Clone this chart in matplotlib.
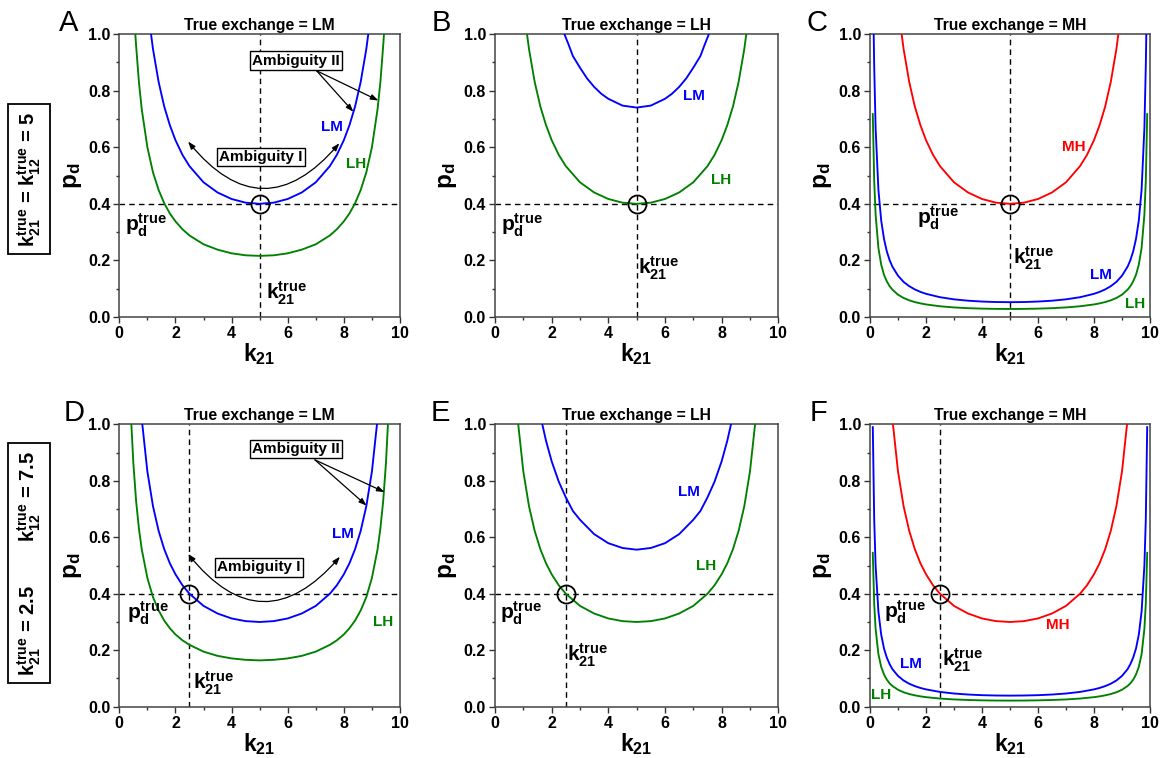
import matplotlib
matplotlib.use("Agg")
import matplotlib.pyplot as plt
from matplotlib.ticker import MultipleLocator

plt.rcParams['font.family'] = ['Liberation Sans', 'DejaVu Sans']
plt.rcParams['font.weight'] = 'bold'
plt.rcParams['mathtext.fontset'] = 'custom'
plt.rcParams['mathtext.rm'] = 'Liberation Sans:bold'
plt.rcParams['mathtext.bf'] = 'Liberation Sans:bold'
plt.rcParams['mathtext.it'] = 'Liberation Sans:bold'

BLUE = '#0000ff'
GREEN = '#008000'
RED = '#ff0000'

# ---------------- data ----------------
# curve with minimum 0.40 at k21 = 5 (A: LM, B: LH, C: MH)
k_min040 = [1.13, 1.2, 1.4, 1.6, 1.8, 2.0, 2.25, 2.5, 3.0, 3.5, 4.0, 4.5, 5.0,
            5.5, 6.0, 6.5, 7.0, 7.5, 7.75, 8.0, 8.2, 8.4, 8.6, 8.8, 8.87]
p_min040 = [1.0, 0.947, 0.831, 0.744, 0.678, 0.625, 0.573, 0.533, 0.476, 0.440, 0.417, 0.404, 0.400,
            0.404, 0.417, 0.440, 0.476, 0.533, 0.573, 0.625, 0.678, 0.744, 0.831, 0.947, 1.0]

# A: LH
k_A_LH = [0.57, 0.6, 0.7, 0.8, 1.0, 1.2, 1.4, 1.6, 1.8, 2.0, 2.25, 2.5, 3.0, 3.5, 4.0, 4.5, 5.0,
          5.5, 6.0, 6.5, 7.0, 7.5, 7.75, 8.0, 8.2, 8.4, 8.6, 8.8, 9.0, 9.2, 9.3, 9.4, 9.43]
p_A_LH = [1.0, 0.957, 0.829, 0.734, 0.600, 0.511, 0.449, 0.402, 0.366, 0.338, 0.310, 0.288, 0.257, 0.238, 0.225, 0.218, 0.216,
          0.218, 0.225, 0.238, 0.257, 0.288, 0.310, 0.338, 0.366, 0.402, 0.449, 0.511, 0.600, 0.734, 0.829, 0.957, 1.0]

# B: LM
k_B_LM = [2.45, 2.5, 2.6, 2.75, 3.0, 3.25, 3.5, 3.75, 4.0, 4.5, 5.0,
          5.5, 6.0, 6.25, 6.5, 6.75, 7.0, 7.25, 7.4, 7.5, 7.55]
p_B_LM = [1.0, 0.987, 0.962, 0.922, 0.881, 0.843, 0.813, 0.789, 0.771, 0.747, 0.740,
          0.747, 0.771, 0.789, 0.813, 0.843, 0.881, 0.922, 0.962, 0.987, 1.0]

# C: LM and LH
k_C_LM = [0.132, 0.15, 0.2, 0.3, 0.4, 0.5, 0.6, 0.7, 0.8, 1.0, 1.2, 1.4, 1.6, 1.8, 2.0, 2.5, 3.0, 3.5, 4.0, 4.5, 5.0,
          5.5, 6.0, 6.5, 7.0, 7.5, 8.0, 8.2, 8.4, 8.6, 8.8, 9.0, 9.2, 9.3, 9.4, 9.5, 9.6, 9.7, 9.8, 9.85, 9.868]
p_C_LM = [1.0, 0.887, 0.668, 0.450, 0.341, 0.276, 0.232, 0.201, 0.178, 0.146, 0.124, 0.109, 0.0975, 0.0888, 0.0819, 0.0699, 0.0624, 0.0576, 0.0546, 0.0529, 0.0524,
          0.0529, 0.0546, 0.0576, 0.0624, 0.0699, 0.0819, 0.0888, 0.0975, 0.109, 0.124, 0.146, 0.178, 0.201, 0.232, 0.276, 0.341, 0.450, 0.668, 0.887, 1.0]
k_C_LH = [0.1, 0.15, 0.2, 0.3, 0.4, 0.5, 0.6, 0.7, 0.8, 1.0, 1.2, 1.4, 1.6, 1.8, 2.0, 2.5, 3.0, 3.5, 4.0, 4.5, 5.0,
          5.5, 6.0, 6.5, 7.0, 7.5, 8.0, 8.2, 8.4, 8.6, 8.8, 9.0, 9.2, 9.3, 9.4, 9.5, 9.6, 9.7, 9.8, 9.85, 9.9]
p_C_LH = [0.717, 0.481, 0.362, 0.244, 0.185, 0.149, 0.126, 0.109, 0.0965, 0.0789, 0.0672, 0.0590, 0.0528, 0.0481, 0.0444, 0.0379, 0.0338, 0.0312, 0.0296, 0.0287, 0.0284,
          0.0287, 0.0296, 0.0312, 0.0338, 0.0379, 0.0444, 0.0481, 0.0528, 0.0590, 0.0672, 0.0789, 0.0965, 0.109, 0.126, 0.149, 0.185, 0.244, 0.362, 0.481, 0.717]

# curve with minimum 0.30 at k21 = 5 (D: LM, E: LH, F: MH)
k_min030 = [0.82, 1.0, 1.2, 1.4, 1.6, 1.8, 2.0, 2.25, 2.5, 3.0, 3.5, 4.0, 4.5, 5.0,
            5.5, 6.0, 6.5, 7.0, 7.5, 7.75, 8.0, 8.2, 8.4, 8.6, 8.8, 9.0, 9.18]
p_min030 = [1.0, 0.833, 0.710, 0.623, 0.558, 0.508, 0.469, 0.430, 0.400, 0.357, 0.330, 0.3125, 0.303, 0.300,
            0.303, 0.3125, 0.330, 0.357, 0.400, 0.430, 0.469, 0.508, 0.558, 0.623, 0.710, 0.833, 1.0]

# D: LH
k_D_LH = [0.43, 0.5, 0.6, 0.7, 0.8, 1.0, 1.2, 1.4, 1.6, 1.8, 2.0, 2.25, 2.5, 3.0, 3.5, 4.0, 4.5, 5.0,
          5.5, 6.0, 6.5, 7.0, 7.5, 7.75, 8.0, 8.2, 8.4, 8.6, 8.8, 9.0, 9.2, 9.3, 9.4, 9.5, 9.57]
p_D_LH = [1.0, 0.863, 0.727, 0.630, 0.557, 0.456, 0.388, 0.341, 0.305, 0.278, 0.256, 0.235, 0.219, 0.195, 0.180, 0.171, 0.166, 0.164,
          0.166, 0.171, 0.180, 0.195, 0.219, 0.235, 0.256, 0.278, 0.305, 0.341, 0.388, 0.456, 0.557, 0.630, 0.727, 0.863, 1.0]

# E: LM
k_E_LM = [1.67, 1.8, 2.0, 2.25, 2.5, 2.75, 3.0, 3.5, 4.0, 4.5, 5.0,
          5.5, 6.0, 6.5, 7.0, 7.25, 7.5, 7.75, 8.0, 8.2, 8.33]
p_E_LM = [1.0, 0.942, 0.869, 0.797, 0.741, 0.693, 0.662, 0.611, 0.579, 0.562, 0.556,
          0.562, 0.579, 0.611, 0.662, 0.693, 0.741, 0.797, 0.869, 0.942, 1.0]

# F: LM and LH
k_F_LM = [0.1, 0.15, 0.2, 0.3, 0.4, 0.5, 0.6, 0.7, 0.8, 1.0, 1.2, 1.4, 1.6, 1.8, 2.0, 2.5, 3.0, 3.5, 4.0, 4.5, 5.0,
          5.5, 6.0, 6.5, 7.0, 7.5, 8.0, 8.2, 8.4, 8.6, 8.8, 9.0, 9.2, 9.3, 9.4, 9.5, 9.6, 9.7, 9.8, 9.85, 9.9]
p_F_LM = [0.99, 0.663, 0.500, 0.337, 0.255, 0.206, 0.174, 0.151, 0.133, 0.109, 0.0928, 0.0814, 0.0729, 0.0664, 0.0613, 0.0523, 0.0467, 0.0431, 0.0408, 0.0396, 0.0392,
          0.0396, 0.0408, 0.0431, 0.0467, 0.0523, 0.0613, 0.0664, 0.0729, 0.0814, 0.0928, 0.109, 0.133, 0.151, 0.174, 0.206, 0.255, 0.337, 0.500, 0.663, 0.99]
k_F_LH = k_F_LM
p_F_LH = [0.545, 0.365, 0.276, 0.186, 0.141, 0.114, 0.0957, 0.0829, 0.0734, 0.0600, 0.0511, 0.0449, 0.0402, 0.0366, 0.0338, 0.0288, 0.0257, 0.0238, 0.0225, 0.0218, 0.0216,
          0.0218, 0.0225, 0.0238, 0.0257, 0.0288, 0.0338, 0.0366, 0.0402, 0.0449, 0.0511, 0.0600, 0.0734, 0.0829, 0.0957, 0.114, 0.141, 0.186, 0.276, 0.365, 0.545]

panel_letters = ['A', 'B', 'C', 'D', 'E', 'F']
titles = ['True exchange = LM', 'True exchange = LH', 'True exchange = MH'] * 2
k21_true = [5.0, 5.0, 5.0, 2.5, 2.5, 2.5]
pd_true = 0.4
x_ticks = [0, 2, 4, 6, 8, 10]
y_ticks = [0.0, 0.2, 0.4, 0.6, 0.8, 1.0]
row_labels = [r'$\mathbf{k_{21}^{true}}$ = $\mathbf{k_{12}^{true}}$ = 5',
              r'$\mathbf{k_{21}^{true}}$ = 2.5        $\mathbf{k_{12}^{true}}$ = 7.5']

# per panel: (k, p, colour, label, label_x, label_y)
curves = [
    [(k_min040, p_min040, BLUE, 'LM', 7.57, 0.67), (k_A_LH, p_A_LH, GREEN, 'LH', 8.43, 0.54)],
    [(k_B_LM, p_B_LM, BLUE, 'LM', 7.03, 0.78), (k_min040, p_min040, GREEN, 'LH', 7.97, 0.485)],
    [(k_min040, p_min040, RED, 'MH', 7.29, 0.60), (k_C_LM, p_C_LM, BLUE, 'LM', 8.25, 0.15),
     (k_C_LH, p_C_LH, GREEN, 'LH', 9.46, 0.045)],
    [(k_min030, p_min030, BLUE, 'LM', 7.98, 0.61), (k_D_LH, p_D_LH, GREEN, 'LH', 9.40, 0.30)],
    [(k_E_LM, p_E_LM, BLUE, 'LM', 6.83, 0.76), (k_min030, p_min030, GREEN, 'LH', 7.46, 0.50)],
    [(k_min030, p_min030, RED, 'MH', 6.71, 0.29), (k_F_LM, p_F_LM, BLUE, 'LM', 1.46, 0.15),
     (k_F_LH, p_F_LH, GREEN, 'LH', 0.39, 0.04)],
]
pd_label_pos = [(0.97, 0.325), (0.94, 0.325), (2.44, 0.35), (1.03, 0.331), (0.92, 0.331), (1.24, 0.334)]
k21_label_pos = [(5.97, 0.084), (5.76, 0.172), (5.83, 0.206), (3.35, 0.083), (3.26, 0.183), (3.32, 0.163)]
hline_span = [(0, 10), (0, 10), (0.1, 9.8), (0, 10), (0, 10), (0.15, 9.85)]
letter_offset_px = [-60, -63, -64, -56, -64, -60]

# ambiguity annotations (panels A and D)
amb1 = {0: dict(start=(2.45, 0.62), end=(7.84, 0.614), rad=0.6, box=(5.05, 0.566)),
        3: dict(start=(2.45, 0.541), end=(7.86, 0.531), rad=0.6, box=(4.98, 0.493))}
amb2 = {0: dict(box=(6.3, 0.906), src=(7.03, 0.87), tips=[(8.34, 0.725), (9.23, 0.765)]),
        3: dict(box=(6.3, 0.913), src=(6.97, 0.874), tips=[(8.81, 0.712), (9.45, 0.76)])}

# ---------------- figure ----------------
W, H = 1161, 758
fig = plt.figure(figsize=(W / 100, H / 100), dpi=100)

col_left = [119.3, 495.0, 870.0]
col_w = [280.7, 283.3, 280.0]
row_top = [34.0, 424.3]
row_h = [283.0, 282.4]

axes = []
for r in range(2):
    for c in range(3):
        ax = fig.add_axes([col_left[c] / W, 1 - (row_top[r] + row_h[r]) / H,
                           col_w[c] / W, row_h[r] / H])
        axes.append(ax)

for i, ax in enumerate(axes):
    for k, p, col, lab, lx, ly in curves[i]:
        ax.plot(k, p, color=col, lw=1.35, zorder=3)
        ax.text(lx, ly, lab, color=col, fontsize=11, fontweight='bold',
                ha='center', va='center', zorder=5)
    kt = k21_true[i]
    ax.plot([kt, kt], [0, 1], ls=(0, (4, 3)), color='black', lw=1.0, zorder=2)
    ax.plot(list(hline_span[i]), [pd_true, pd_true], ls=(0, (4, 3)), color='black', lw=1.0, zorder=2)
    ax.plot([kt], [pd_true], marker='o', ms=13, mfc='none', mec='black', mew=1.3, zorder=6)
    ax.text(*pd_label_pos[i], r'$\mathbf{p_d^{true}}$', fontsize=15, ha='center', va='center')
    ax.text(*k21_label_pos[i], r'$\mathbf{k_{21}^{true}}$', fontsize=15, ha='center', va='center')

    ax.set_xlim(0, 10)
    ax.set_ylim(0, 1)
    ax.set_xticks(x_ticks)
    ax.set_yticks(y_ticks)
    ax.set_xticklabels([str(t) for t in x_ticks])
    ax.set_yticklabels(['%.1f' % t for t in y_ticks])
    ax.xaxis.set_minor_locator(MultipleLocator(1))
    ax.yaxis.set_minor_locator(MultipleLocator(0.1))
    ax.tick_params(which='both', direction='out', top=False, right=False, width=1.0, colors='#333333',
                   labelcolor='black')
    ax.tick_params(which='major', length=4.5, labelsize=11.5, pad=2)
    ax.tick_params(which='minor', length=2.5)
    for t in ax.get_xticklabels() + ax.get_yticklabels():
        t.set_fontweight('bold')
    for s in ax.spines.values():
        s.set_linewidth(1.1)
        s.set_color('#444444')
    ax.set_xlabel(r'$\mathbf{k_{21}}$', fontsize=16.5, labelpad=0)
    ax.set_ylabel(r'$\mathbf{p_d}$', fontsize=17.5, labelpad=3)
    ax.set_title(titles[i], fontsize=11.3, fontweight='bold', pad=3)
    ax.text(letter_offset_px[i] / col_w[i % 3], 1.0 + 3.0 / row_h[i // 3], panel_letters[i],
            transform=ax.transAxes, fontsize=21, fontweight='normal', ha='left', va='baseline')

    if i in amb1:
        a = amb1[i]
        ax.annotate('', xy=a['end'], xytext=a['start'],
                    arrowprops=dict(arrowstyle='<|-|>,head_length=0.45,head_width=0.16',
                                    connectionstyle='arc3,rad=%.2f' % a['rad'],
                                    color='black', lw=0.9, shrinkA=0, shrinkB=0), zorder=4)
        ax.text(*a['box'], 'Ambiguity I', fontsize=11, fontweight='bold', ha='center', va='center',
                bbox=dict(boxstyle='square,pad=0.15', fc='white', ec='black', lw=1.0), zorder=7)
    if i in amb2:
        a = amb2[i]
        for tip in a['tips']:
            ax.annotate('', xy=tip, xytext=a['src'],
                        arrowprops=dict(arrowstyle='-|>,head_length=0.45,head_width=0.16',
                                        color='black', lw=0.9, shrinkA=0, shrinkB=0), zorder=4)
        ax.text(*a['box'], 'Ambiguity II', fontsize=11, fontweight='bold', ha='center', va='center',
                bbox=dict(boxstyle='square,pad=0.15', fc='white', ec='black', lw=1.0), zorder=7)

# row labels
row_label_y = [179.0, 563.0]
for r in range(2):
    fig.text(29.0 / W, 1 - row_label_y[r] / H, row_labels[r], rotation=90, fontsize=14.5,
             fontweight='bold', ha='center', va='center',
             bbox=dict(boxstyle='square,pad=0.35', fc='white', ec='black', lw=1.3))

fig.savefig('out.png', dpi=100)
